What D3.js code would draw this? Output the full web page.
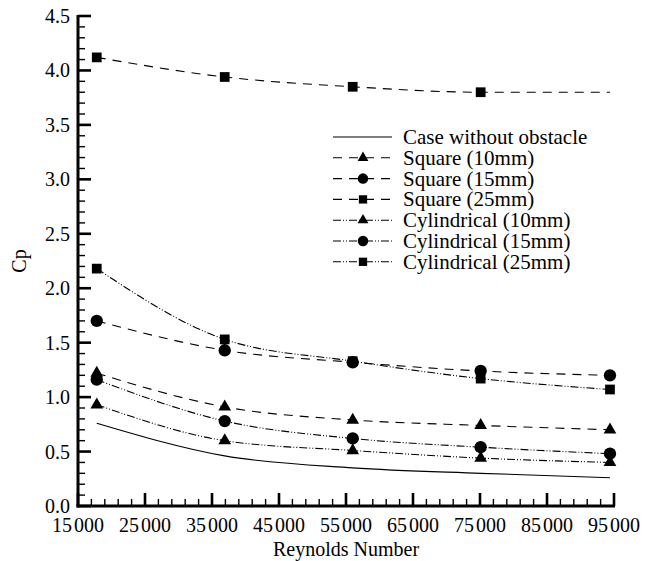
<!DOCTYPE html>
<html>
<head>
<meta charset="utf-8">
<script src="https://cdn.jsdelivr.net/npm/d3@7"></script>
<style>
  body { margin: 0; background: #fff; }
</style>
</head>
<body>
<svg id="chart" width="647" height="561" font-family="'Liberation Serif', 'Times New Roman', Times, serif"></svg>
<script>
// Reynolds numbers where data was taken
const reynolds = [17800, 36900, 56000, 75100, 94400];

const noObstacle = [0.76, 0.46, 0.35, 0.30, 0.26];
const square10 = [1.22, 0.91, 0.79, 0.74, 0.70];
const square15 = [1.70, 1.43, 1.32, 1.24, 1.20];
const square25 = [4.12, 3.94, 3.85, 3.80, 3.80];
const cyl10 = [0.93, 0.60, 0.51, 0.44, 0.40];
const cyl15 = [1.16, 0.78, 0.62, 0.54, 0.48];
const cyl25 = [2.18, 1.53, 1.33, 1.17, 1.07];

const xTicks = [15000, 25000, 35000, 45000, 55000, 65000, 75000, 85000, 95000];
const yTicks = [0, 0.5, 1, 1.5, 2, 2.5, 3, 3.5, 4, 4.5];

const dashed = "9,7";
const dashDotDot = "8,2,1,2,1,2";

// series table (name, values, line dash, marker, number of markers)
const series = [
    {name: "Case without obstacle", values: noObstacle, dash: null, marker: null, nMarks: 0},
    {name: "Square (10mm)", values: square10, dash: dashed, marker: "triangle", nMarks: 5},
    {name: "Square (15mm)", values: square15, dash: dashed, marker: "circle", nMarks: 5},
    {name: "Square (25mm)", values: square25, dash: dashed, marker: "square", nMarks: 4},
    {name: "Cylindrical (10mm)", values: cyl10, dash: dashDotDot, marker: "triangle", nMarks: 5},
    {name: "Cylindrical (15mm)", values: cyl15, dash: dashDotDot, marker: "circle", nMarks: 5},
    {name: "Cylindrical (25mm)", values: cyl25, dash: dashDotDot, marker: "square", nMarks: 5}
];

const svg = d3.select("#chart");
const plotLeft = 78, plotRight = 614, plotTop = 16, plotBottom = 506;

let x = d3.scaleLinear().domain([15000, 95000]).range([plotLeft, plotRight]);
let y = d3.scaleLinear().domain([0, 4.5]).range([plotBottom, plotTop]);

function markerPath(type) {
    if (type === "triangle") return d3.symbol().type(d3.symbolTriangle).size(70)();
    if (type === "circle") return d3.symbol().type(d3.symbolCircle).size(120)();
    return d3.symbol().type(d3.symbolSquare).size(95)();
}

let line = d3.line()
    .x(d => x(d[0]))
    .y(d => y(d[1]))
    .curve(d3.curveMonotoneX);

// curves
series.forEach(s => {
    let pts = reynolds.map((r, i) => [r, s.values[i]]);
    svg.append("path")
        .attr("d", line(pts))
        .attr("fill", "none")
        .attr("stroke", "#000")
        .attr("stroke-width", 1.1)
        .attr("stroke-dasharray", s.dash);
    if (s.marker) {
        svg.selectAll(null).data(pts.slice(0, s.nMarks)).enter().append("path")
            .attr("d", markerPath(s.marker))
            .attr("transform", d => "translate(" + x(d[0]) + "," + y(d[1]) + ")")
            .attr("fill", "#000");
    }
});

// minor ticks
let xMinor = d3.range(15000, 95001, 2000).filter(v => v % 10000 !== 5000);
let yMinor = d3.range(0, 46).map(v => v / 10).filter((v, i) => i % 5 !== 0);

svg.selectAll(null).data(xMinor).enter().append("line")
    .attr("x1", d => x(d)).attr("x2", d => x(d))
    .attr("y1", plotBottom).attr("y2", plotBottom - 7)
    .attr("stroke", "#000").attr("stroke-width", 1.4);
svg.selectAll(null).data(yMinor).enter().append("line")
    .attr("y1", d => y(d)).attr("y2", d => y(d))
    .attr("x1", plotLeft).attr("x2", plotLeft + 7)
    .attr("stroke", "#000").attr("stroke-width", 1.4);

// major ticks
svg.selectAll(null).data(xTicks).enter().append("line")
    .attr("x1", d => x(d)).attr("x2", d => x(d))
    .attr("y1", plotBottom).attr("y2", plotBottom - 13)
    .attr("stroke", "#000").attr("stroke-width", 2.6);
svg.selectAll(null).data(yTicks).enter().append("line")
    .attr("y1", d => y(d)).attr("y2", d => y(d))
    .attr("x1", plotLeft).attr("x2", plotLeft + 13)
    .attr("stroke", "#000").attr("stroke-width", 2.6);

// axis lines
svg.append("line").attr("x1", plotLeft).attr("x2", plotLeft)
    .attr("y1", plotTop - 1).attr("y2", plotBottom + 1.5)
    .attr("stroke", "#000").attr("stroke-width", 3);
svg.append("line").attr("x1", plotLeft - 1.5).attr("x2", plotRight + 1)
    .attr("y1", plotBottom).attr("y2", plotBottom)
    .attr("stroke", "#000").attr("stroke-width", 3);

// tick labels (thousands split with a small gap)
let xLab = svg.selectAll(null).data(xTicks).enter().append("text")
    .attr("x", d => x(d)).attr("y", plotBottom + 26)
    .attr("text-anchor", "middle")
    .attr("font-size", 20);
xLab.append("tspan").text(d => String(d).slice(0, -3));
xLab.append("tspan").attr("dx", 2).text(d => String(d).slice(-3));

svg.selectAll(null).data(yTicks).enter().append("text")
    .attr("x", plotLeft - 8).attr("y", d => y(d) + 7)
    .attr("text-anchor", "end")
    .attr("font-size", 20)
    .text(d => d.toFixed(1));

// axis titles
svg.append("text").attr("x", 346).attr("y", 556)
    .attr("text-anchor", "middle").attr("font-size", 20)
    .text("Reynolds Number");
svg.append("text")
    .attr("transform", "translate(26,261) rotate(-90)")
    .attr("text-anchor", "middle").attr("font-size", 20)
    .text("Cp");

// legend
let legend = svg.append("g").attr("transform", "translate(333,137)");
series.forEach((s, i) => {
    let row = legend.append("g").attr("transform", "translate(0," + i * 20.8 + ")");
    row.append("line").attr("x1", 0).attr("x2", 59).attr("y1", 0).attr("y2", 0)
        .attr("stroke", "#000").attr("stroke-width", 1.1)
        .attr("stroke-dasharray", s.dash);
    if (s.marker) {
        row.append("path").attr("d", markerPath(s.marker))
            .attr("transform", "translate(30,0) scale(0.85)")
            .attr("fill", "#000");
    }
    row.append("text").attr("x", 70).attr("y", 7)
        .attr("font-size", 21)
        .text(s.name);
});
</script>
</body>
</html>
